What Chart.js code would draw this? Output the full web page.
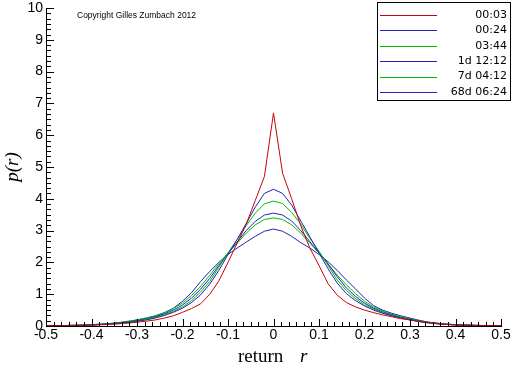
<!DOCTYPE html>
<html>
<head>
<meta charset="utf-8">
<script src="https://cdn.jsdelivr.net/npm/chart.js@4"></script>
<style>
  html, body { margin: 0; padding: 0; background: #fff; }
  #wrap { width: 512px; height: 366px; }
</style>
</head>
<body>
<div id="wrap"><canvas id="pdfChart"></canvas></div>
<script>
// return grid, step 0.02
const returns = [-0.5, -0.48, -0.46, -0.44, -0.42, -0.4, -0.38, -0.36, -0.34, -0.32, -0.3, -0.28, -0.26,
  -0.24, -0.22, -0.2, -0.18, -0.16, -0.14, -0.12, -0.1, -0.08, -0.06, -0.04, -0.02, 0,
  0.02, 0.04, 0.06, 0.08, 0.1, 0.12, 0.14, 0.16, 0.18, 0.2, 0.22, 0.24, 0.26, 0.28, 0.3,
  0.32, 0.34, 0.36, 0.38, 0.4, 0.42, 0.44, 0.46, 0.48, 0.5];

const labels = ['00:03', '00:24', '03:44', '1d 12:12', '7d 04:12', '68d 06:24'];
const colors = ['#cc0000', '#2222bb', '#00bb00', '#2222bb', '#00bb00', '#2222bb'];

const p0003 = [0.01, 0.01, 0.01, 0.015, 0.02, 0.03, 0.04, 0.05, 0.07, 0.09, 0.12, 0.15, 0.19, 0.25, 0.32, 0.43, 0.55, 0.7, 1.0, 1.42, 2.0, 2.6, 3.2, 3.95, 4.7,
  6.7,
  4.8, 4.0, 3.15, 2.45, 1.9, 1.33, 0.97, 0.74, 0.6, 0.5, 0.42, 0.35, 0.29, 0.23, 0.19, 0.14, 0.1, 0.07, 0.05, 0.035, 0.025, 0.02, 0.015, 0.01, 0.01];
const p0024 = [0.01, 0.01, 0.01, 0.015, 0.02, 0.03, 0.045, 0.06, 0.08, 0.11, 0.15, 0.19, 0.25, 0.33, 0.43, 0.56, 0.74, 0.98, 1.32, 1.75, 2.25, 2.72, 3.22, 3.74, 4.17,
  4.3,
  4.17, 3.8, 3.3, 2.8, 2.3, 1.8, 1.35, 1.02, 0.8, 0.63, 0.5, 0.4, 0.32, 0.25, 0.19, 0.14, 0.1, 0.07, 0.05, 0.035, 0.025, 0.02, 0.015, 0.01, 0.01];
const p0344 = [0.01, 0.01, 0.015, 0.02, 0.025, 0.035, 0.05, 0.065, 0.09, 0.12, 0.16, 0.21, 0.27, 0.35, 0.46, 0.6, 0.8, 1.07, 1.4, 1.85, 2.3, 2.72, 3.16, 3.55, 3.84,
  3.93,
  3.85, 3.57, 3.2, 2.75, 2.35, 1.9, 1.45, 1.12, 0.86, 0.67, 0.53, 0.42, 0.33, 0.26, 0.2, 0.15, 0.11, 0.08, 0.055, 0.04, 0.03, 0.02, 0.015, 0.01, 0.01];
const p1d = [0.01, 0.01, 0.015, 0.02, 0.03, 0.04, 0.055, 0.075, 0.1, 0.13, 0.17, 0.22, 0.29, 0.38, 0.5, 0.66, 0.88, 1.16, 1.5, 1.9, 2.28, 2.64, 3.0, 3.29, 3.49,
  3.55,
  3.49, 3.3, 3.0, 2.65, 2.3, 1.95, 1.55, 1.2, 0.93, 0.72, 0.56, 0.44, 0.35, 0.27, 0.21, 0.16, 0.12, 0.085, 0.06, 0.04, 0.03, 0.02, 0.015, 0.01, 0.01];
const p7d = [0.01, 0.01, 0.015, 0.02, 0.03, 0.045, 0.06, 0.08, 0.11, 0.15, 0.19, 0.25, 0.31, 0.41, 0.55, 0.72, 0.96, 1.25, 1.6, 1.96, 2.3, 2.6, 2.92, 3.18, 3.35,
  3.4,
  3.35, 3.18, 2.92, 2.6, 2.3, 1.95, 1.6, 1.3, 1.02, 0.78, 0.6, 0.47, 0.37, 0.29, 0.22, 0.17, 0.12, 0.09, 0.06, 0.045, 0.03, 0.02, 0.015, 0.01, 0.01];
const p68d = [0.01, 0.01, 0.015, 0.02, 0.025, 0.035, 0.05, 0.07, 0.1, 0.14, 0.19, 0.25, 0.32, 0.42, 0.56, 0.78, 1.05, 1.4, 1.72, 2.0, 2.25, 2.45, 2.64, 2.82, 2.98,
  3.05,
  2.98, 2.82, 2.62, 2.45, 2.25, 2.02, 1.75, 1.45, 1.17, 0.88, 0.64, 0.5, 0.4, 0.32, 0.25, 0.18, 0.12, 0.08, 0.05, 0.035, 0.025, 0.02, 0.015, 0.01, 0.01];

const series = [p0003, p0024, p0344, p1d, p7d, p68d];

// axis ticks drawn inward, legend box, axis titles
const decor = {
  id: 'decor',
  afterDraw(chart) {
    const ctx = chart.ctx;
    const xs = chart.scales.x, ys = chart.scales.y;
    const a = chart.chartArea;
    const L = Math.round(a.left), B = Math.round(a.bottom), R = Math.round(a.right), T = Math.round(a.top);
    ctx.save();
    ctx.fillStyle = '#000';
    // axis lines
    ctx.fillRect(L, T, 1, B - T + 1);
    ctx.fillRect(L, B, R - L + 1, 1);
    // major and minor ticks, pointing into the plot
    for (let i = 0; i <= 60; i++) {
      const px = Math.round(xs.getPixelForValue(-0.5 + i / 60));
      const len = i % 6 === 0 ? 7 : 4;
      ctx.fillRect(px, B - len, 1, len);
    }
    for (let i = 0; i <= 60; i++) {
      const py = Math.round(ys.getPixelForValue(i / 6));
      const len = i % 6 === 0 ? 7 : 4;
      ctx.fillRect(L, py, len + 1, 1);
    }

    // legend
    ctx.strokeStyle = '#000';
    ctx.lineWidth = 1;
    ctx.strokeRect(377.5, 2.5, 133, 98);
    labels.forEach((l, i) => {
      const y = Math.round(15 + i * 15.4);
      ctx.fillStyle = colors[i];
      ctx.fillRect(380, y, 57, 1);
    });
    ctx.font = '11px "DejaVu Sans"';
    ctx.textAlign = 'right';
    ctx.textBaseline = 'middle';
    ctx.fillStyle = '#000';
    labels.forEach((l, i) => ctx.fillText(l, 507, 15 + i * 15.4));

    // copyright
    ctx.textAlign = 'left';
    ctx.font = '8.5px "Liberation Sans"';
    ctx.fillText('Copyright Gilles Zumbach 2012', 77, 16);

    // x title
    ctx.textBaseline = 'alphabetic';
    ctx.font = '19px "Liberation Serif"';
    ctx.fillText('return', 238, 362);
    ctx.font = 'italic 19px "Liberation Serif"';
    ctx.fillText('r', 300, 362);

    // y title
    ctx.translate(18, 167);
    ctx.rotate(-Math.PI / 2);
    ctx.textAlign = 'center';
    ctx.font = 'italic 19px "Liberation Serif"';
    ctx.fillText('p(r)', 0, 0);
    ctx.restore();
  }
};

new Chart(document.getElementById('pdfChart'), {
  type: 'line',
  data: {
    datasets: series.map((s, k) => ({
      label: labels[k],
      data: returns.map((r, i) => ({ x: r, y: s[i] })),
      borderColor: colors[k],
      borderWidth: 1,
      pointRadius: 0,
      tension: 0,
      fill: false
    }))
  },
  options: {
    responsive: true,
    maintainAspectRatio: false,
    animation: false,
    events: [],
    layout: { padding: { top: 8, right: 11, left: 0, bottom: 0 } },
    plugins: { legend: { display: false }, tooltip: { enabled: false } },
    scales: {
      x: {
        type: 'linear',
        min: -0.5, max: 0.5,
        grid: { display: false, drawTicks: false },
        border: { display: false },
        ticks: {
          stepSize: 0.1,
          autoSkip: false,
          maxRotation: 0,
          padding: 1,
          color: '#000',
          font: { family: 'Liberation Sans', size: 14 },
          callback: v => String(Math.round(v * 10) / 10)
        },
        afterFit: s => { s.height = 40; s.paddingLeft = 0; s.paddingRight = 0; }
      },
      y: {
        min: 0, max: 10,
        grid: { display: false, drawTicks: false },
        border: { display: false },
        ticks: {
          stepSize: 1,
          padding: 3,
          color: '#000',
          font: { family: 'Liberation Sans', size: 14 }
        },
        afterFit: s => { s.width = 46; s.paddingTop = 0; s.paddingBottom = 0; }
      }
    }
  },
  plugins: [decor]
});
</script>
</body>
</html>
